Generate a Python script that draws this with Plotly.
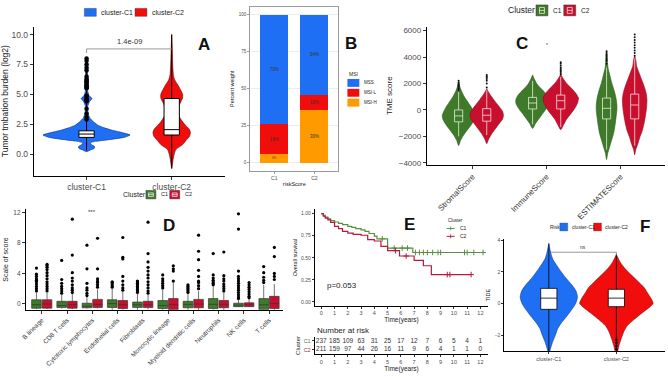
import plotly.graph_objects as go

W, H = 668, 377
FONT = "Liberation Sans, Arial, sans-serif"
TXT = "#4d4d4d"

def px(x):
    return x / W

def py(y):
    return 1 - y / H

# ================= DATA =================
# ---- Panel A: tumor mutation burden (log2) ----
A_groups = ["cluster-C1", "cluster-C2"]
A_C1_y = [0.2, 0.35, 0.5, 0.65, 0.8, 0.95, 1.05, 1.2, 1.4, 1.6, 1.8, 2.0, 2.2, 2.4, 2.7, 3.0, 3.4,
          4.0, 4.4, 4.65, 4.9, 5.3, 5.7, 6.0, 6.4, 7.0, 7.5, 8.0]
A_C1_d = [0, 0.09, 0.18, 0.18, 0.11, 0.09, 0.18, 0.5, 0.86, 1.0, 0.82, 0.59, 0.41, 0.27, 0.16, 0.08,
          0.034, 0.027, 0.07, 0.125, 0.057, 0.027, 0.045, 0.04, 0.023, 0.023, 0.034, 0]
A_C2_y = [-1.2, -0.8, -0.4, 0.0, 0.4, 0.8, 1.2, 1.5, 1.8, 2.1, 2.4, 2.7, 3.1, 3.5, 3.9, 4.3, 4.7,
          5.0, 5.4, 5.8, 6.2, 6.6, 7.2, 8.0, 9.0, 10.0]
A_C2_d = [0, 0.018, 0.034, 0.057, 0.10, 0.25, 0.34, 0.41, 0.43, 0.40, 0.32, 0.25, 0.18, 0.14, 0.15,
          0.20, 0.25, 0.25, 0.20, 0.14, 0.07, 0.04, 0.027, 0.018, 0.011, 0]
A_lo = [0.3, -1.2]
A_q1 = [1.4, 1.6]
A_med = [1.68, 2.05]
A_q3 = [1.95, 4.65]
A_hi = [8.0, 10.0]
A_C1_out = [2.9, 3.1, 3.4, 3.8, 4.4, 4.5, 4.6, 4.7, 4.8, 4.9, 5.5, 5.6, 5.7, 5.8, 6.0, 6.1, 6.2,
            6.3, 6.5, 7.0, 7.2, 7.5, 7.8, 8.0]
A_pval = "1.4e-09"

# ---- Panel B: MSI composition ----
B_groups = ["C1", "C2"]
B_MSIH = [6, 36]
B_MSIL = [20, 10]
B_MSS = [74, 54]
B_MSIH_lab = ["8%", "30%"]
B_MSIL_lab = ["18%", "16%"]
B_MSS_lab = ["73%", "54%"]

# ---- Panel C: TME scores ----
C_cats = ["StromalScore", "ImmuneScore", "ESTIMATEScore"]
C_y = {
    "S1": [-2700, -2300, -1900, -1500, -1100, -700, -400, -100, 300, 700, 1100, 1400, 1800, 2200],
    "S2": [-2550, -2200, -1800, -1400, -1000, -700, -400, -100, 300, 700, 1100, 1400, 1600],
    "I1": [-1400, -1000, -600, -200, 200, 500, 800, 1100, 1500, 1900, 2300, 2650],
    "I2": [-1500, -1100, -700, -300, 100, 500, 900, 1300, 1700, 2100, 2500, 2700],
    "E1": [-3750, -3300, -2800, -2300, -1800, -1200, -600, 0, 400, 900, 1500, 2100, 2700, 3200, 3700, 4450],
    "E2": [-3400, -3000, -2600, -2100, -1600, -1000, -400, 200, 800, 1300, 1800, 2300, 2800, 3300, 3800, 4100],
}
C_d = {
    "S1": [0, 0.11, 0.28, 0.5, 0.72, 0.89, 0.92, 0.83, 0.67, 0.47, 0.28, 0.17, 0.06, 0],
    "S2": [0, 0.11, 0.28, 0.5, 0.72, 0.89, 0.94, 0.89, 0.67, 0.44, 0.22, 0.08, 0],
    "I1": [0, 0.17, 0.39, 0.61, 0.83, 0.94, 0.94, 0.83, 0.56, 0.28, 0.11, 0],
    "I2": [0, 0.17, 0.33, 0.56, 0.78, 0.94, 1.0, 0.83, 0.56, 0.28, 0.08, 0],
    "E1": [0, 0.06, 0.17, 0.28, 0.39, 0.47, 0.53, 0.58, 0.58, 0.53, 0.42, 0.28, 0.17, 0.08, 0.04, 0],
    "E2": [0, 0.06, 0.17, 0.28, 0.42, 0.53, 0.61, 0.67, 0.69, 0.64, 0.53, 0.39, 0.25, 0.11, 0.06, 0],
}
C_C1_lo = [-2000, -1100, -3000]
C_C1_q1 = [-900, 75, -675]
C_C1_med = [-450, 525, 125]
C_C1_q3 = [0, 950, 900]
C_C1_hi = [1350, 2200, 3200]
C_C2_lo = [-1900, -1300, -2700]
C_C2_q1 = [-850, 75, -675]
C_C2_med = [-400, 700, 375]
C_C2_q3 = [100, 1125, 1200]
C_C2_hi = [1500, 2500, 3900]
C_C1_out = [[1500, 1650, 1750, 1850, 1950, 2050, 2200], [], [3500, 3700, 3800, 3900, 4000, 4100, 4200, 4300, 4450]]
C_C2_out = [[1700, 2000, 2200, 2350, 2450, 2550, 2650], [2700, 2800, 2900, 3000, 3100, 3200, 3350, 3500, 3600],
            [4100, 4300, 4500, 4700, 4900, 5100, 5300, 5500, 5700]]

# ---- Panel D: cell-type scores ----
D_cats = ["B lineage", "CD8 T cells", "Cytotoxic lymphocytes", "Endothelial cells", "Fibroblasts",
          "Monocytic lineage", "Myeloid dendritic cells", "Neutrophils", "NK cells", "T cells"]
D_C1_lo = [-0.7, -0.6, -0.6, -1.0, -0.8, -1.0, -0.9, -1.3, -0.4, -1.2]
D_C1_q1 = [-0.55, -0.45, -0.5, -0.45, -0.45, -0.6, -0.5, -0.6, -0.35, -0.75]
D_C1_med = [-0.1, -0.2, -0.3, 0.05, -0.1, -0.2, -0.05, -0.05, -0.15, -0.1]
D_C1_q3 = [0.55, 0.35, 0.1, 0.55, 0.25, 0.45, 0.35, 0.7, 0.1, 0.7]
D_C1_hi = [1.5, 1.2, 0.9, 2.0, 1.3, 1.9, 1.3, 2.3, 0.5, 2.5]
D_C2_lo = [-0.7, -0.7, -0.6, -1.3, -0.7, -1.3, -1.0, -1.3, -0.4, -1.2]
D_C2_q1 = [-0.55, -0.55, -0.45, -0.6, -0.45, -0.75, -0.5, -0.5, -0.35, -0.6]
D_C2_med = [0.0, -0.1, -0.05, -0.1, -0.1, -0.1, 0.0, -0.05, -0.1, 0.05]
D_C2_q3 = [0.55, 0.35, 0.6, 0.45, 0.35, 0.7, 0.6, 0.45, 0.15, 1.0]
D_C2_hi = [1.5, 1.3, 1.9, 1.6, 1.2, 2.8, 1.7, 1.5, 0.6, 2.6]
D_C1_out = [
    [1.7, 2.0, 2.3, 2.6, 2.9, 3.1, 3.3, 3.6, 3.9, 4.7],
    [1.4, 1.7, 2.0, 2.3, 2.7, 3.2, 5.7],
    [1.1, 1.4, 1.8, 2.1, 2.7, 4.6, 7.7],
    [2.2, 2.4, 2.6, 2.8, 2.9],
    [1.5, 1.7, 1.9, 2.1, 2.3, 2.5, 2.7, 2.9, 3.0],
    [2.1, 2.4, 2.7, 3.0, 3.3, 3.8],
    [1.5, 1.7, 1.9, 2.1, 2.3, 2.5],
    [2.5, 2.7, 2.9, 3.1, 3.4, 3.8, 6.6],
    [0.7, 0.9, 1.2, 1.5, 1.8, 2.1, 2.4, 2.7, 3.0, 3.3, 3.6, 4.3, 9.8, 11.8],
    [2.8, 3.1, 3.5, 4.1, 4.9],
]
D_C2_out = [
    [1.7, 2.0, 2.3, 2.6, 2.9, 3.3, 3.7, 4.1, 4.5, 4.8, 5.0, 5.2],
    [1.5, 1.8, 2.1, 2.5, 3.0, 3.4, 4.1, 6.4, 11.1],
    [2.2, 2.5, 2.8, 3.0, 3.3, 4.6, 8.6],
    [1.8, 2.1, 2.5, 3.0, 3.6, 5.9, 6.1, 8.7],
    [1.4, 1.7, 2.1, 2.5, 2.9, 3.4, 3.8, 4.3, 4.8, 5.5, 6.6, 10.7],
    [3.0, 4.3, 4.6, 5.0],
    [2.0, 2.4, 2.8, 3.0, 3.6, 4.4, 5.8, 6.9, 9.0],
    [1.7, 2.0, 2.3, 2.6, 3.0, 3.3, 3.7, 6.8],
    [0.8, 1.0, 1.3, 1.6, 1.9, 2.2, 2.5, 2.8],
    [3.2, 3.6, 4.0, 6.2, 7.4],
]

# ---- Panel E: Kaplan-Meier ----
E_C1_t = [0, 0.15, 0.3, 0.5, 0.7, 1.0, 1.3, 1.6, 2.0, 2.3, 2.6, 3.0, 3.3, 3.6, 4.0, 4.2, 5.0, 6.9, 12.2]
E_C1_s = [1.0, 0.98, 0.96, 0.94, 0.92, 0.905, 0.89, 0.875, 0.855, 0.845, 0.83, 0.815, 0.80, 0.775, 0.745, 0.715, 0.61, 0.56, 0.56]
E_C2_t = [0, 0.15, 0.3, 0.5, 0.7, 1.0, 1.3, 1.6, 2.0, 2.4, 3.0, 3.5, 4.0, 4.5, 5.0, 5.9, 7.0, 7.7, 8.3, 11.3]
E_C2_s = [1.0, 0.97, 0.95, 0.93, 0.90, 0.855, 0.83, 0.80, 0.78, 0.765, 0.755, 0.705, 0.69, 0.63, 0.58, 0.52, 0.47, 0.41, 0.31, 0.31]
E_C1_cens = [4.6, 5.5, 6.1, 6.5, 7.1, 7.4, 7.7, 8.0, 8.4, 8.8, 9.0, 10.8, 11.0, 11.5, 12.2]
E_C2_cens = [5.6, 6.4, 9.5, 9.7, 11.3]
E_years = list(range(13))
E_risk_C1 = [237, 185, 109, 63, 31, 25, 17, 12, 7, 6, 5, 4, 1]
E_risk_C2 = [211, 159, 97, 44, 26, 16, 11, 9, 6, 4, 1, 1, 0]
E_pval = "p=0.053"

# ---- Panel F: TIDE ----
F_groups = ["cluster-C1", "cluster-C2"]
F_C1_y = [-3.2, -2.8, -2.4, -2.0, -1.6, -1.2, -0.8, -0.4, 0.0, 0.4, 0.8, 1.2, 1.6, 2.0, 2.4, 2.8, 3.2, 3.8]
F_C1_d = [0, 0.054, 0.11, 0.18, 0.24, 0.35, 0.49, 0.62, 0.73, 0.78, 0.74, 0.62, 0.47, 0.34, 0.22, 0.11, 0.054, 0]
F_C2_y = [-3.4, -3.0, -2.6, -2.2, -1.8, -1.4, -1.0, -0.6, -0.2, 0.0, 0.3, 0.7, 1.0, 1.4, 1.8, 2.2, 2.6, 3.1]
F_C2_d = [0, 0.04, 0.08, 0.135, 0.2, 0.3, 0.49, 0.7, 0.92, 1.0, 0.95, 0.84, 0.76, 0.59, 0.41, 0.24, 0.11, 0]
F_lo = [-3.2, -3.4]
F_q1 = [-0.37, -0.2]
F_med = [0.34, 0.34]
F_q3 = [0.96, 0.9]
F_hi = [3.8, 3.1]
F_C2_out = [-2.3, -2.5, -2.7, -2.9]

# ================= STYLE =================
BLUE = "#1f6ff5"
RED = "#f20d0d"
ORANGE = "#ff9a00"
GREEN = "#3f7a2b"
GREEN_D = "#2c5a1c"
CRIM = "#c8102e"
CRIM_D = "#8e0b20"
KM_G = "#5b8f3e"
KM_R = "#b8193c"

traces = []


def violin(xa, ya, center, ys, dens, halfmax, fill, line, lw=0.6):
    right = [center + d * halfmax for d in dens]
    left = [center - d * halfmax for d in dens][::-1]
    return go.Scatter(x=right + left, y=list(ys) + list(ys)[::-1], mode="lines", fill="toself",
                      fillcolor=fill, line=dict(color=line, width=lw, shape="spline", smoothing=0.6),
                      xaxis=xa, yaxis=ya, hoverinfo="skip", showlegend=False)


def boxes(xa, ya, xs, lo, q1, med, q3, hi, width, fill, line, lw=1.0):
    return go.Box(x=xs, lowerfence=lo, q1=q1, median=med, q3=q3, upperfence=hi, width=width,
                  fillcolor=fill, line=dict(color=line, width=lw), boxpoints=False, whiskerwidth=0,
                  xaxis=xa, yaxis=ya, showlegend=False, hoverinfo="skip")


def points(xa, ya, xs, ys, size=3.5, color="black"):
    return go.Scatter(x=xs, y=ys, mode="markers", marker=dict(size=size, color=color, line=dict(width=0)),
                      xaxis=xa, yaxis=ya, showlegend=False, hoverinfo="skip")

# ---- Panel A ----  (boxes on an overlaying subplot so they sit above the violins)
A_HALF = 0.512
traces.append(violin("x", "y", 0, A_C1_y, A_C1_d, A_HALF, BLUE, "#0b2f80"))
traces.append(violin("x", "y", 1, A_C2_y, A_C2_d, A_HALF, RED, "#700000"))
traces.append(boxes("x8", "y8", [0, 1], A_lo, A_q1, A_med, A_q3, A_hi, 0.18, "white", "black", 1.0))
traces.append(points("x8", "y8", [0] * len(A_C1_out), A_C1_out, size=4.5))

# ---- Panel B ----
for vals, labs, col in [(B_MSIH, B_MSIH_lab, ORANGE), (B_MSIL, B_MSIL_lab, RED), (B_MSS, B_MSS_lab, BLUE)]:
    traces.append(go.Bar(x=[1, 2], y=vals, text=labs, marker=dict(color=col, line=dict(width=0)),
                         width=0.7, xaxis="x2", yaxis="y2", showlegend=False, textposition="inside",
                         insidetextanchor="middle", textfont=dict(size=4.5, color="#333"), hoverinfo="skip"))

# ---- Panel C ----
C_OFF = 0.19
C_HALF = 0.24
keys1 = ["S1", "I1", "E1"]
keys2 = ["S2", "I2", "E2"]
for i in range(3):
    traces.append(violin("x3", "y3", i + 1 - C_OFF, C_y[keys1[i]], C_d[keys1[i]], C_HALF, GREEN, GREEN_D))
    traces.append(violin("x3", "y3", i + 1 + C_OFF, C_y[keys2[i]], C_d[keys2[i]], C_HALF, CRIM, CRIM_D))
traces.append(boxes("x9", "y9", [i + 1 - C_OFF for i in range(3)], C_C1_lo, C_C1_q1, C_C1_med, C_C1_q3,
                    C_C1_hi, 0.11, "rgba(0,0,0,0)", "rgba(235,245,225,0.95)", 0.8))
traces.append(boxes("x9", "y9", [i + 1 + C_OFF for i in range(3)], C_C2_lo, C_C2_q1, C_C2_med, C_C2_q3,
                    C_C2_hi, 0.11, "rgba(0,0,0,0)", "rgba(255,230,235,0.95)", 0.8))
for i in range(3):
    if C_C1_out[i]:
        traces.append(points("x9", "y9", [i + 1 - C_OFF] * len(C_C1_out[i]), C_C1_out[i], size=2, color="#111"))
    if C_C2_out[i]:
        traces.append(points("x9", "y9", [i + 1 + C_OFF] * len(C_C2_out[i]), C_C2_out[i], size=2, color="#111"))

# ---- Panel D ----
D_OFF = 0.21
traces.append(boxes("x4", "y4", [i - D_OFF for i in range(10)], D_C1_lo, D_C1_q1, D_C1_med, D_C1_q3,
                    D_C1_hi, 0.38, GREEN, "#333333", 0.7))
traces.append(boxes("x4", "y4", [i + D_OFF for i in range(10)], D_C2_lo, D_C2_q1, D_C2_med, D_C2_q3,
                    D_C2_hi, 0.38, CRIM, "#333333", 0.7))
for i in range(10):
    traces.append(points("x4", "y4", [i - D_OFF] * len(D_C1_out[i]), D_C1_out[i], size=3.2))
    traces.append(points("x4", "y4", [i + D_OFF] * len(D_C2_out[i]), D_C2_out[i], size=3.2))

# ---- Panel E ----
def surv_at(ts, ss, t):
    v = ss[0]
    for tt, s in zip(ts, ss):
        if tt <= t:
            v = s
    return v

traces.append(go.Scatter(x=E_C1_t, y=E_C1_s, mode="lines", line=dict(color=KM_G, width=1.2, shape="hv"),
                         xaxis="x5", yaxis="y5", showlegend=False, hoverinfo="skip"))
traces.append(go.Scatter(x=E_C2_t, y=E_C2_s, mode="lines", line=dict(color=KM_R, width=1.2, shape="hv"),
                         xaxis="x5", yaxis="y5", showlegend=False, hoverinfo="skip"))
traces.append(go.Scatter(x=E_C1_cens, y=[surv_at(E_C1_t, E_C1_s, t) for t in E_C1_cens], mode="markers",
                         marker=dict(symbol="cross-thin", size=4, line=dict(color=KM_G, width=1)),
                         xaxis="x5", yaxis="y5", showlegend=False, hoverinfo="skip"))
traces.append(go.Scatter(x=E_C2_cens, y=[surv_at(E_C2_t, E_C2_s, t) for t in E_C2_cens], mode="markers",
                         marker=dict(symbol="cross-thin", size=4, line=dict(color=KM_R, width=1)),
                         xaxis="x5", yaxis="y5", showlegend=False, hoverinfo="skip"))
# risk table
traces.append(go.Scatter(x=E_years, y=[2] * len(E_years), mode="text", text=[str(v) for v in E_risk_C1],
                         textfont=dict(size=6.5, color="#333", family=FONT), xaxis="x6", yaxis="y6",
                         showlegend=False, hoverinfo="skip"))
traces.append(go.Scatter(x=E_years, y=[1] * len(E_years), mode="text", text=[str(v) for v in E_risk_C2],
                         textfont=dict(size=6.5, color="#333", family=FONT), xaxis="x6", yaxis="y6",
                         showlegend=False, hoverinfo="skip"))

# ---- Panel F ----
F_HALF = 0.544
traces.append(violin("x7", "y7", 0, F_C1_y, F_C1_d, F_HALF, BLUE, "#0b2f80", 0.5))
traces.append(violin("x7", "y7", 1, F_C2_y, F_C2_d, F_HALF, RED, "#700000", 0.5))
traces.append(boxes("x10", "y10", [0, 1], F_lo, F_q1, F_med, F_q3, F_hi, 0.24, "white", "black", 0.8))
traces.append(points("x10", "y10", [1] * len(F_C2_out), F_C2_out, size=2.5))

fig = go.Figure(traces)

# ================= AXES =================
def xdom(a, b):
    return [px(a), px(b)]

def ydom(top, bottom):
    return [py(bottom), py(top)]

base = dict(showgrid=False, zeroline=False, showline=True, linecolor="black", linewidth=1,
            ticks="outside", ticklen=3, tickcolor="#333", tickwidth=0.8)

A_xr, A_yr = [-0.62, 1.63], [-1.8, 10.66]
C_xr, C_yr = [0.38, 3.6], [-4150, 6300]
F_xr, F_yr = [-0.66, 1.72], [-3.03, 4.1]

layout = dict(
    width=W, height=H, margin=dict(l=0, r=0, t=0, b=0),
    paper_bgcolor="white", plot_bgcolor="rgba(0,0,0,0)", barmode="stack", boxmode="overlay",
    font=dict(family=FONT, color="#222"), showlegend=False,
    xaxis=dict(base, domain=xdom(29, 222), range=A_xr, tickvals=[0, 1], ticktext=A_groups,
               tickfont=dict(size=8.5, color=TXT), anchor="y"),
    yaxis=dict(base, domain=ydom(25, 176), range=A_yr, tickvals=[0, 2.5, 5, 7.5, 10],
               ticktext=["0.0", "2.5", "5.0", "7.5", "10.0"], tickfont=dict(size=8.5, color=TXT),
               title=dict(text="Tumor tmbation burden (log2)", font=dict(size=8.5, color="#222"), standoff=4),
               anchor="x"),
    xaxis8=dict(overlaying="x", range=A_xr, visible=False, anchor="y8"),
    yaxis8=dict(overlaying="y", range=A_yr, visible=False, anchor="x8"),
    xaxis2=dict(base, domain=xdom(247, 336), range=[0.4, 2.6], tickvals=[1, 2], ticktext=B_groups,
                linecolor="#9a9a9a", linewidth=0.8, mirror=True, ticklen=2, tickcolor="#9a9a9a",
                tickfont=dict(size=5, color=TXT), anchor="y2",
                title=dict(text="riskScore", font=dict(size=5.5, color="#222"), standoff=2)),
    yaxis2=dict(base, domain=ydom(5, 171), range=[-5.3, 105.3], tickvals=[0, 25, 50, 75, 100],
                linecolor="#9a9a9a", linewidth=0.8, mirror=True, ticklen=2, tickcolor="#9a9a9a",
                showgrid=True, gridcolor="#ececec", gridwidth=0.6,
                tickfont=dict(size=4.5, color=TXT), anchor="x2",
                title=dict(text="Percent weight", font=dict(size=5.5, color="#222"), standoff=3)),
    xaxis3=dict(base, domain=xdom(425, 665), range=C_xr, tickvals=[1, 2, 3], ticktext=C_cats,
                tickangle=-45, tickfont=dict(size=8, color="#333"), anchor="y3"),
    yaxis3=dict(base, domain=ydom(25, 165), range=C_yr,
                tickvals=[-4000, -2000, 0, 2000, 4000, 6000], tickfont=dict(size=8, color=TXT), anchor="x3",
                title=dict(text="TME score", font=dict(size=8, color="#222"), standoff=4)),
    xaxis9=dict(overlaying="x3", range=C_xr, visible=False, anchor="y9"),
    yaxis9=dict(overlaying="y3", range=C_yr, visible=False, anchor="x9"),
    xaxis4=dict(base, domain=xdom(21, 280), range=[-0.63, 9.55], tickvals=list(range(10)), ticktext=D_cats,
                tickangle=-45, tickfont=dict(size=6.5, color="#333"), anchor="y4"),
    yaxis4=dict(base, domain=ydom(210, 312), range=[-0.77, 12.4], tickvals=[0, 4, 8, 12],
                tickfont=dict(size=6.5, color=TXT), anchor="x4",
                title=dict(text="Scale of score", font=dict(size=7, color="#222"), standoff=3)),
    xaxis5=dict(base, domain=xdom(312, 487), range=[-0.5, 12.6], tickvals=E_years, linewidth=0.8,
                ticklen=2, tickfont=dict(size=5.5, color=TXT), anchor="y5",
                title=dict(text="Time(years)", font=dict(size=6.5, color="#222"), standoff=1)),
    yaxis5=dict(base, domain=ydom(210, 308), range=[-0.045, 1.05], tickvals=[0, 0.25, 0.5, 0.75, 1],
                ticktext=["0.00", "0.25", "0.50", "0.75", "1.00"], linewidth=0.8, ticklen=2,
                tickfont=dict(size=5, color=TXT), anchor="x5",
                title=dict(text="Overall survival", font=dict(size=5.5, color="#222"), standoff=3)),
    xaxis6=dict(base, domain=xdom(312, 487), range=[-0.5, 12.6], tickvals=E_years, linewidth=0.8,
                ticklen=2, tickfont=dict(size=5.5, color=TXT), anchor="y6",
                title=dict(text="Time(years)", font=dict(size=6.5, color="#222"), standoff=0)),
    yaxis6=dict(base, domain=ydom(339, 357), range=[0.5, 2.5], tickvals=[1, 2],
                ticktext=["<span style='color:#a0304a'>C2</span>", "<span style='color:#5b7a4a'>C1</span>"],
                linewidth=0.8, ticklen=2, tickfont=dict(size=5.5, color="#777"), anchor="x6",
                title=dict(text="Cluster", font=dict(size=6, color="#222"), standoff=2)),
    xaxis7=dict(base, domain=xdom(503, 665), range=F_xr, tickvals=[0, 1], ticktext=F_groups,
                linewidth=0.8, ticklen=2, tickfont=dict(size=5.5, color=TXT), anchor="y7"),
    yaxis7=dict(base, domain=ydom(240, 354), range=F_yr, tickvals=[-2, 0, 2, 4],
                linewidth=0.8, ticklen=2, tickfont=dict(size=5, color=TXT), anchor="x7",
                title=dict(text="TIDE", font=dict(size=5.5, color="#222"), standoff=3)),
    xaxis10=dict(overlaying="x7", range=F_xr, visible=False, anchor="y10"),
    yaxis10=dict(overlaying="y7", range=F_yr, visible=False, anchor="x10"),
)
fig.update_layout(**layout)

shapes = []
ann = []


def prect(x0, y0, x1, y1, fill, line="rgba(0,0,0,0)", lw=0):
    shapes.append(dict(type="rect", xref="paper", yref="paper", x0=px(x0), x1=px(x1), y0=py(y1), y1=py(y0),
                       fillcolor=fill, line=dict(color=line, width=lw), layer="above"))


def pline(x0, y0, x1, y1, color, lw=1):
    shapes.append(dict(type="line", xref="paper", yref="paper", x0=px(x0), x1=px(x1), y0=py(y0), y1=py(y1),
                       line=dict(color=color, width=lw), layer="above"))


def ptext(x, y, text, size, color="#222", anchor="left", bold=False):
    ann.append(dict(xref="paper", yref="paper", x=px(x), y=py(y), text=("<b>%s</b>" % text) if bold else text,
                    showarrow=False, xanchor=anchor, yanchor="middle", font=dict(size=size, color=color, family=FONT)))


def boxkey(x0, y0, x1, y1, fill, inner):
    prect(x0, y0, x1, y1, fill, "#333", 0.5)
    cx = (x0 + x1) / 2
    prect(cx - 2.5, y0 + 2.5, cx + 2.5, y1 - 2.5, "rgba(0,0,0,0)", inner, 0.8)
    pline(cx - 2.5, (y0 + y1) / 2, cx + 2.5, (y0 + y1) / 2, inner, 0.8)

# Panel A: legend, bracket, letter
prect(80, 6.5, 92, 14.5, BLUE, "#333", 0.4)
ptext(95, 10.5, "cluster-C1", 7)
prect(131, 6.5, 143, 14.5, RED, "#333", 0.4)
ptext(146, 10.5, "cluster-C2", 7)
shapes.append(dict(type="line", xref="x", yref="y", x0=0, x1=1, y0=8.8, y1=8.8, line=dict(color="#9a9a9a", width=1)))
shapes.append(dict(type="line", xref="x", yref="y", x0=0, x1=0, y0=8.8, y1=8.45, line=dict(color="#9a9a9a", width=1)))
ann.append(dict(xref="x", yref="y", x=0.5, y=8.85, text=A_pval, showarrow=False, yanchor="bottom",
                font=dict(size=7.5, color="#333", family=FONT)))
ptext(201, 43, "A", 17, "#111", "center", True)

# Panel B: legend, letter
ptext(345, 73, "MSI", 5)
for yy, col, lab in [(78, BLUE, "MSS"), (88, RED, "MSI-L"), (98, ORANGE, "MSI-H")]:
    prect(345, yy, 357, yy + 8, col)
    ptext(360, yy + 4, lab, 4.5)
ptext(349, 42, "B", 17, "#111", "center", True)

# Panel C: legend, letter, marker
ptext(505, 8.5, "Cluster", 8.5)
boxkey(535, 3, 547, 14, GREEN, "#e8f0e0")
ptext(550, 8.5, "C1", 6.5)
boxkey(563, 3, 575, 14, CRIM, "#ffe0e6")
ptext(578, 8.5, "C2", 6.5)
ptext(521, 42, "C", 17, "#111", "center", True)
ann.append(dict(xref="x3", yref="y3", x=2, y=4900, text="*", showarrow=False,
                font=dict(size=5, color="#333", family=FONT)))

# Panel D: legend, letter, stars
ptext(117, 195, "Cluster", 7)
boxkey(142, 191, 152, 199.5, GREEN, "#e8f0e0")
ptext(155, 195, "C1", 5.5)
boxkey(166, 191, 176, 199.5, CRIM, "#ffe0e6")
ptext(179, 195, "C2", 5.5)
ptext(165, 227, "D", 17, "#111", "center", True)
ann.append(dict(xref="x4", yref="y4", x=2, y=12.1, text="***", showarrow=False,
                font=dict(size=6, color="#333", family=FONT)))

# Panel E: legend, letter, p-value, table title
ptext(444, 221.5, "Cluster", 4.5)
pline(445, 229.5, 453, 229.5, KM_G, 1)
pline(449, 227.5, 449, 231.5, KM_G, 0.8)
ptext(456, 229.5, "C1", 5)
pline(445, 237.5, 453, 237.5, KM_R, 1)
pline(449, 235.5, 449, 239.5, KM_R, 0.8)
ptext(456, 237.5, "C2", 5)
ptext(408, 225, "E", 17, "#111", "center", True)
ann.append(dict(xref="x5", yref="y5", x=0.25, y=0.19, text=E_pval, showarrow=False, xanchor="left",
                font=dict(size=8, color="#222", family=FONT)))
ptext(312, 333, "Number at risk", 8)

# Panel F: legend, bracket, letter
ptext(547, 228, "Risk", 5)
prect(559, 224, 567, 232, BLUE, "#333", 0.3)
ptext(569, 228, "cluster-C1", 5)
prect(593, 224, 601, 232, RED, "#333", 0.3)
ptext(603, 228, "cluster-C2", 5)
for x0, y0, x1, y1 in [(0, 3.25, 1, 3.25), (0, 3.25, 0, 3.05), (1, 3.25, 1, 3.05)]:
    shapes.append(dict(type="line", xref="x7", yref="y7", x0=x0, x1=x1, y0=y0, y1=y1,
                       line=dict(color="#555", width=0.6)))
ann.append(dict(xref="x7", yref="y7", x=0.5, y=3.28, text="ns", showarrow=False, yanchor="bottom",
                font=dict(size=5, color="#333", family=FONT)))
ptext(645, 228, "F", 17, "#111", "center", True)

fig.update_layout(shapes=shapes, annotations=ann)
fig.write_html("out.html", config={"displayModeBar": False},
               post_script="document.body.style.margin='0';document.body.style.padding='0';")
